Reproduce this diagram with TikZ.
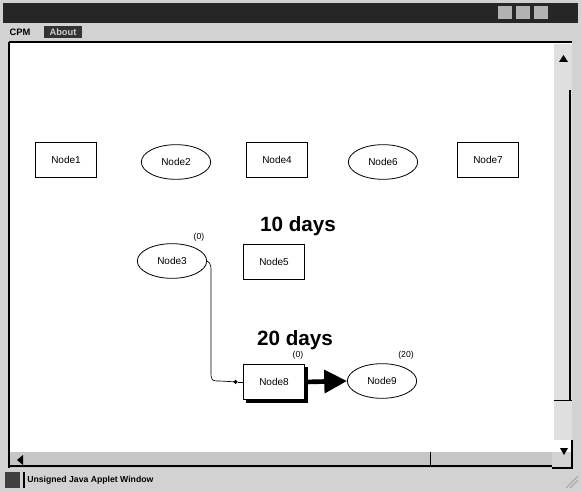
\documentclass[tikz,border=0pt]{standalone}
\usepackage{fontspec}
\setmainfont{Liberation Sans}
\usetikzlibrary{shapes.geometric,arrows.meta}
\begin{document}
\begin{tikzpicture}[x=0.75pt,y=-0.75pt,
  box/.style={draw=black,line width=0.6pt,minimum width=46pt,minimum height=26pt,font=\fontsize{7.5}{8}\selectfont,inner sep=0pt},
  ell/.style={draw=black,line width=0.6pt,ellipse,minimum width=52pt,minimum height=26pt,font=\fontsize{7.5}{8}\selectfont,inner sep=0pt},
  small/.style={font=\fontsize{6.5}{7}\selectfont,inner sep=0pt},
  big/.style={font=\bfseries\fontsize{15.5}{16}\selectfont,inner sep=0pt}]
\useasboundingbox (0,0) rectangle (581,491);
% window frame
\fill[gray!35] (0,0) rectangle (581,491);
\fill[black!85] (3,3) rectangle (578,23);
\fill[gray!60] (498,6) rectangle (512,19);
\fill[gray!60] (516,6) rectangle (530,19);
\fill[gray!60] (534,6) rectangle (548,19);
% menu
\node[font=\bfseries\fontsize{7}{8}\selectfont,inner sep=0pt] (menu1) at (20,32) {CPM};
\fill[black!80] (44,26) rectangle (82,38);
\node[font=\bfseries\fontsize{7}{8}\selectfont,text=gray!40,inner sep=0pt] (menu2) at (63,32) {About};
% client area
\fill[white] (9,42) rectangle (572,452);
\draw[black,line width=1pt] (9,42) -- (572,42);
\draw[black,line width=0.8pt] (9,42) -- (9,468);
% vertical scrollbar
\fill[gray!25] (554,44) rectangle (572,440);
\fill[black] (559,62) -- (568,62) -- (563.5,55) -- cycle;
\draw[black,line width=2pt] (570,90) -- (570,400);
\draw[black,line width=0.6pt] (554,400) -- (572,400);
% horizontal scrollbar
\fill[gray!45] (10,452) rectangle (552,468);
\draw[black,line width=1.2pt] (10,466) -- (552,466);
\draw[black,line width=0.6pt] (430,452) -- (430,466);
\fill[black] (17,460) -- (23,455) -- (23,465) -- cycle;
\fill[black] (560,448) -- (568,448) -- (564,455) -- cycle;
\draw[black,line width=0.8pt] (552,468) -- (572,468) -- (572,440);
\draw[gray!70,line width=0.8pt] (566,488) -- (578,476) (570,488) -- (578,480);
% status bar
\fill[black!75] (5,472) rectangle (20,488);
\draw[black,line width=1pt] (24,472) -- (24,488);
\node[font=\bfseries\fontsize{6.5}{7}\selectfont,anchor=west,inner sep=0pt] (status) at (27,480) {Unsigned Java Applet Window};
% nodes
\node[box] (n1) at (66,160) {Node1};
\node[ell] (n2) at (176,162) {Node2};
\node[box] (n4) at (277,160) {Node4};
\node[ell] (n6) at (383,162) {Node6};
\node[box] (n7) at (488,160) {Node7};
\node[big] (d10) at (298,226) {10 days};
\node[ell] (n3) at (172,261) {Node3};
\node[small] (l3) at (199,237) {(0)};
\node[box] (n5) at (274,262) {Node5};
\node[big] (d20) at (295,340) {20 days};
\fill[black] (246,367) rectangle (308,403);
\node[box,fill=white] (n8) at (274,382) {Node8};
\node[small] (l8) at (298,355) {(0)};
\node[ell] (n9) at (382,381) {Node9};
\node[small] (l9) at (406,355) {(20)};
% connectors
\draw[black,line width=0.5pt,-{Circle[length=3pt]}] (n3.east) .. controls (208,262) and (211,262) .. (211,270) -- (211,372) .. controls (211,381) and (212,381) .. (220,381) -- ([xshift=-4pt]n8.west);
\draw[black,line width=0.5pt] ([xshift=-4pt]n8.west) -- (n8.west);
\draw[black,line width=3.5pt,-{Triangle[length=17pt,width=17pt]}] (n8.east) -- (n9.west);
\end{tikzpicture}
\end{document}
